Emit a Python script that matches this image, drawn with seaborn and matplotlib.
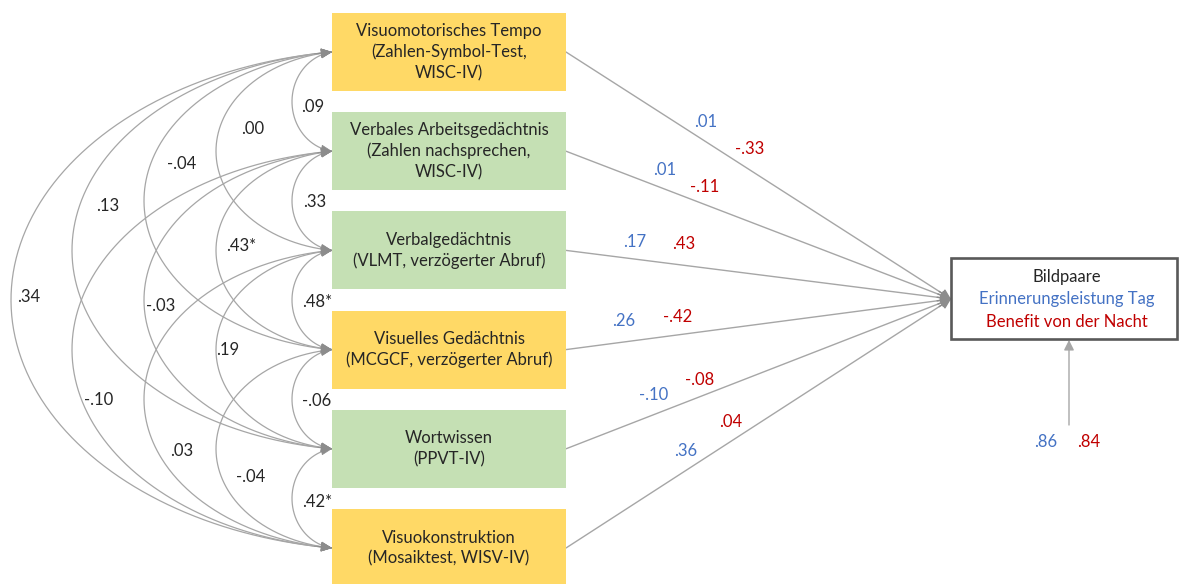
import numpy as np
import pandas as pd
import matplotlib
matplotlib.use("Agg")
import matplotlib.pyplot as plt
from matplotlib.patches import Rectangle, FancyArrowPatch
import seaborn as sns

# ------------------------------------------------------------------ data
predictors = [
    "Visuomotorisches Tempo\n(Zahlen-Symbol-Test,\nWISC-IV)",
    "Verbales Arbeitsgedächtnis\n(Zahlen nachsprechen,\nWISC-IV)",
    "Verbalgedächtnis\n(VLMT, verzögerter Abruf)",
    "Visuelles Gedächtnis\n(MCGCF, verzögerter Abruf)",
    "Wortwissen\n(PPVT-IV)",
    "Visuokonstruktion\n(Mosaiktest, WISV-IV)",
]
domain = ["visuell", "verbal", "verbal", "visuell", "verbal", "visuell"]

cov_pairs = [(0, 1), (0, 2), (0, 3), (0, 4), (0, 5),
             (1, 2), (1, 3), (1, 4), (1, 5),
             (2, 3), (2, 4), (2, 5),
             (3, 4), (3, 5),
             (4, 5)]
cov_values = [0.09, 0.00, -0.04, 0.13, 0.34,
              0.33, 0.43, -0.03, -0.10,
              0.48, 0.19, 0.03,
              -0.06, -0.04,
              0.42]
cov_signif = [False, False, False, False, False,
              False, True, False, False,
              True, False, False,
              False, False,
              True]

path_day = [0.01, 0.01, 0.17, 0.26, -0.10, 0.36]
path_night = [-0.33, -0.11, 0.43, -0.42, -0.08, 0.04]

outcome_title = "Bildpaare"
outcome_day = "Erinnerungsleistung Tag"
outcome_night = "Benefit von der Nacht"
resid_day = 0.86
resid_night = 0.84

# ---------------------------------------------------------------- styling
sns.set_theme(style="white")
plt.rcParams["font.family"] = ["Lato", "DejaVu Sans"]

FILL = {"visuell": "#FFD966", "verbal": "#C5E0B4"}
TXT = "#262626"
BLUE = "#4472C4"
RED = "#C00000"
ARC = "#A6A6A6"
HEAD = "#8C8C8C"
FS = 12

W, H = 1179, 584
BX0, BX1 = 332, 566
BOX_H = 78
PITCH = 99.2
TOP0 = 13
tops = TOP0 + PITCH * np.arange(len(predictors))
centers = tops + BOX_H / 2
TGT_X0, TGT_Y0, TGT_X1, TGT_Y1 = 951, 258, 1177, 339
TGT_IN = (951, 299)
RES_X, RES_Y0 = 1069, 425

# how far an arc bulges left of the boxes, by span
SAG = {1: 40, 2: 116, 3: 188, 4: 260, 5: 321}
ECC = 0.15  # ellipse centre offset (fraction of bulge) to the right of the boxes

# label positions (layout only)
cov_label_pos = [(313, 107), (253, 129), (182, 164), (108, 206), (29, 297),
                 (315, 202), (241, 246), (161, 306), (99, 400),
                 (317, 302), (228, 350), (182, 451),
                 (317, 401), (251, 477),
                 (317, 502)]
day_label_pos = [(706, 122), (665, 170), (635, 242), (624, 321), (654, 395), (686, 451)]
night_label_pos = [(750, 149), (705, 187), (684, 244), (678, 317), (700, 380), (731, 422)]
res_label_pos = [(1046, 442), (1089, 442)]


def fmt(v, star=False):
    s = f"{abs(v):.2f}".lstrip("0")
    if v < 0:
        s = "-" + s
    return s + ("*" if star else "")


fig = plt.figure(figsize=(W / 100, H / 100), dpi=100)
ax = fig.add_axes([0, 0, 1, 1])

# ---------------------------------------------------------- straight paths
rows = []
for i, c in enumerate(centers):
    rows.append({"pfad": i, "x": BX1, "y": c})
    rows.append({"pfad": i, "x": TGT_IN[0], "y": TGT_IN[1]})
df_paths = pd.DataFrame(rows)
sns.lineplot(data=df_paths, x="x", y="y", units="pfad", estimator=None,
             sort=False, color=ARC, lw=1.0, ax=ax, legend=False)
for i, c in enumerate(centers):
    dx, dy = TGT_IN[0] - BX1, TGT_IN[1] - c
    L = np.hypot(dx, dy)
    start = (TGT_IN[0] - dx / L * 14, TGT_IN[1] - dy / L * 14)
    ax.add_patch(FancyArrowPatch(start, TGT_IN, arrowstyle="-|>,head_length=0.6,head_width=0.3",
                                 mutation_scale=10, color=HEAD, lw=1.0,
                                 shrinkA=0, shrinkB=0, zorder=3))

# --------------------------------------------------------- covariance arcs
def arc_points(y1, y2, s, x0=BX0, n=300):
    ym = (y1 + y2) / 2
    half = (y2 - y1) / 2
    e = ECC * s
    a = s + e
    cx = x0 + e
    c = e / a
    b = half / np.sqrt(1 - c ** 2)
    t1 = np.arctan2(-np.sqrt(1 - c ** 2), -c)
    t2 = np.arctan2(np.sqrt(1 - c ** 2), -c)
    t = np.linspace(t1, t2 - 2 * np.pi, n)
    return cx + a * np.cos(t), ym + b * np.sin(t)


for (a, b), v, sig, pos in zip(cov_pairs, cov_values, cov_signif, cov_label_pos):
    xs, ys = arc_points(centers[a], centers[b], SAG[b - a])
    ax.plot(xs, ys, color=ARC, lw=0.9, zorder=2)
    for k in (0, -1):
        j = 5 if k == 0 else -6
        ax.add_patch(FancyArrowPatch((xs[j], ys[j]), (xs[k], ys[k]),
                                     arrowstyle="-|>,head_length=0.7,head_width=0.3",
                                     mutation_scale=10, color=HEAD, lw=0.5,
                                     shrinkA=0, shrinkB=0, zorder=3))
    ax.text(pos[0], pos[1], fmt(v, sig), ha="center", va="center",
            fontsize=FS, color=TXT, zorder=5)

# ------------------------------------------------------------ predictor boxes
for t, lab, dom in zip(tops, predictors, domain):
    ax.add_patch(Rectangle((BX0, t), BX1 - BX0, BOX_H, facecolor=FILL[dom],
                           edgecolor="none", zorder=4))
    ax.text((BX0 + BX1) / 2, t + BOX_H / 2, lab, ha="center", va="center",
            fontsize=FS, color=TXT, linespacing=1.35, zorder=5)

# ---------------------------------------------------------- path labels
for v, pos in zip(path_day, day_label_pos):
    ax.text(pos[0], pos[1], fmt(v), ha="center", va="center", fontsize=FS, color=BLUE)
for v, pos in zip(path_night, night_label_pos):
    ax.text(pos[0], pos[1], fmt(v), ha="center", va="center", fontsize=FS, color=RED)

# ---------------------------------------------------------- outcome box
ax.add_patch(Rectangle((TGT_X0, TGT_Y0), TGT_X1 - TGT_X0, TGT_Y1 - TGT_Y0,
                       facecolor="white", edgecolor="#595959", lw=1.9, zorder=4))
tx = (TGT_X0 + TGT_X1) / 2 + 3
ax.text(tx, 277, outcome_title, ha="center", va="center", fontsize=FS, color=TXT, zorder=5)
ax.text(tx, 299, outcome_day, ha="center", va="center", fontsize=FS, color=BLUE, zorder=5)
ax.text(tx, 322, outcome_night, ha="center", va="center", fontsize=FS, color=RED, zorder=5)

# residual
ax.add_patch(FancyArrowPatch((RES_X, RES_Y0), (RES_X, TGT_Y1 + 1),
                             arrowstyle="-|>,head_length=0.6,head_width=0.3",
                             mutation_scale=10, color=ARC, lw=1.0,
                             shrinkA=0, shrinkB=0, zorder=3))
ax.text(res_label_pos[0][0], res_label_pos[0][1], fmt(resid_day), ha="center",
        va="center", fontsize=FS, color=BLUE)
ax.text(res_label_pos[1][0], res_label_pos[1][1], fmt(resid_night), ha="center",
        va="center", fontsize=FS, color=RED)

ax.set_xlim(0, W)
ax.set_ylim(H, 0)
ax.axis("off")
fig.savefig("out.png", dpi=100, facecolor="white")
